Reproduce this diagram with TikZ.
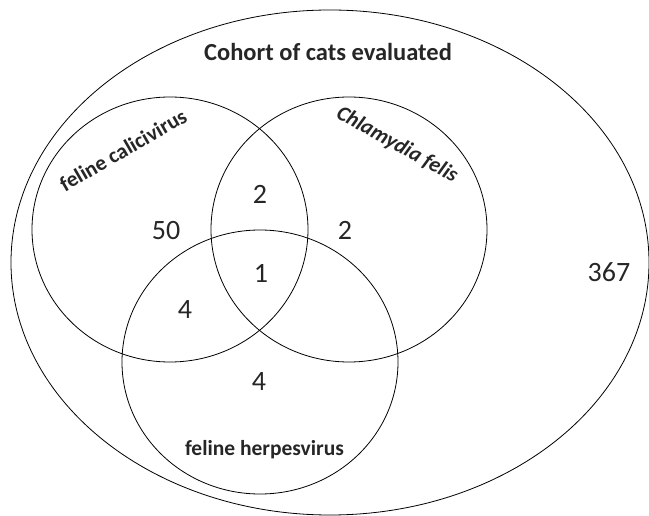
\documentclass[tikz,border=0pt]{standalone}
\usepackage{fontspec}
\setmainfont{Carlito}
\usepackage{tikz}
\tikzstyle{set}=[line width=0.8pt]
\tikzstyle{setname}=[text=black!85, font=\bfseries\fontsize{21.5}{24}\selectfont]
\tikzstyle{count}=[text=black!85, font=\fontsize{28}{30}\selectfont]

\begin{document}
\begin{tikzpicture}[x=1pt, y=-1pt]
        \useasboundingbox (0,0) rectangle (649,516);
        \draw[set] (330,262.5) ellipse [x radius=319pt, y radius=252.5pt];
        \draw[set] (170,229.5) ellipse [x radius=138pt, y radius=132.5pt];
        \draw[set] (349,229.5) ellipse [x radius=138pt, y radius=132.5pt];
        \draw[set] (260,362) ellipse [x radius=138pt, y radius=132pt];
        \node[setname, font=\bfseries\fontsize{24.5}{27}\selectfont] (cohort) at (328,52) {Cohort of cats evaluated};
        \node[setname, rotate=30] (fcv) at (123,150) {feline calicivirus};
        \node[setname, rotate=-29] (cf) at (397,145) {\itshape Chlamydia felis};
        \node[setname] (fhv) at (264.5,450) {feline herpesvirus};
        \node[count] (nfcv) at (166,231) {50};
        \node[count] (nfcvcf) at (260,194) {2};
        \node[count] (ncf) at (345,230) {2};
        \node[count] (nall) at (261,273) {1};
        \node[count] (nfcvfhv) at (185,310) {4};
        \node[count] (nfhv) at (259,382) {4};
        \node[count] (nnone) at (609,272) {367};
    \end{tikzpicture}
\end{document}
